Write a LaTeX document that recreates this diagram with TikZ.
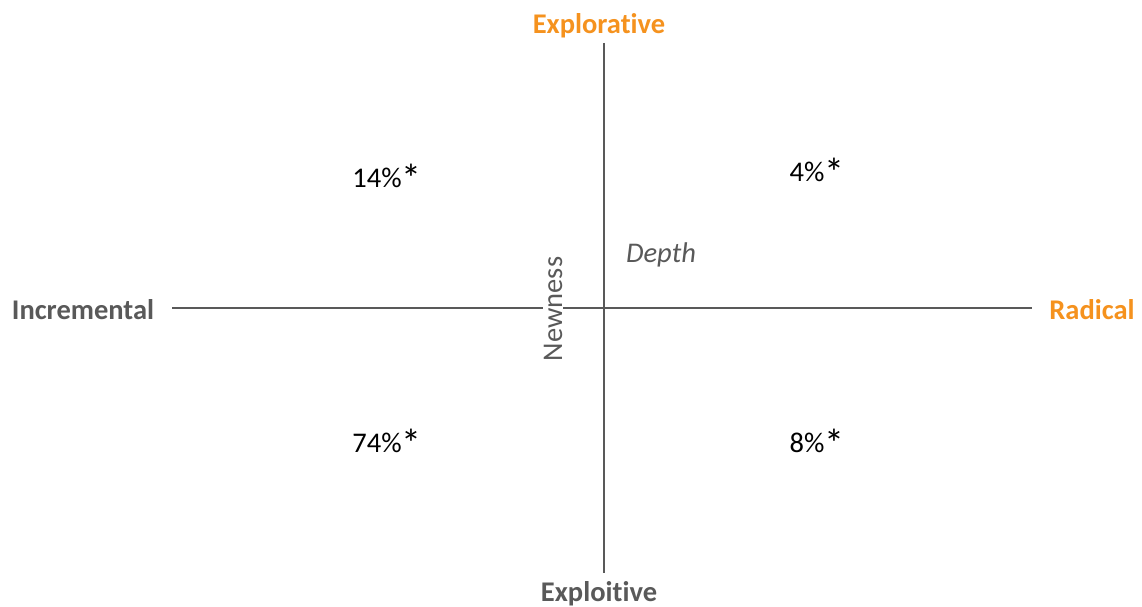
\documentclass[tikz,border=0pt]{standalone}
\usepackage{fontspec}
\setmainfont{Carlito}[Ligatures=CommonOff]
\definecolor{axisgray}{HTML}{595959}
\definecolor{accent}{HTML}{F5921E}
\newcommand{\bigast}{\raisebox{-5pt}{\fontsize{40}{42}\selectfont *}}
\begin{document}
\begin{tikzpicture}[x=1pt,y=-1pt,
  lbl/.style={font=\fontsize{28.5}{30}\selectfont\bfseries, inner sep=0pt, anchor=base},
  pct/.style={font=\fontsize{28.5}{30}\selectfont, text=black, inner sep=0pt, anchor=base},
  axisline/.style={draw=axisgray, line width=1.6pt}]
\useasboundingbox (0,0) rectangle (1142,607);
\coordinate (top) at (604,43);
\coordinate (bot) at (604,573);
\coordinate (lft) at (172,308);
\coordinate (rgt) at (1032,308);
\draw[axisline] (lft) -- (rgt);
\draw[axisline] (top) -- (bot);
\node[lbl, text=accent] (explorative) at (599,33.5) {Explorative};
\node[lbl, text=axisgray] (exploitive) at (599,601) {Exploitive};
\node[lbl, text=axisgray] (incremental) at (83,319) {Incremental};
\node[lbl, text=accent] (radical) at (1092,319) {Radical};
\node[pct] (q1) at (387,187) {14\%\bigast};
\node[pct] (q2) at (817,181) {4\%\bigast};
\node[pct] (q3) at (387,452) {74\%\bigast};
\node[pct] (q4) at (817,452) {8\%\bigast};
\node[font=\fontsize{28.5}{30}\selectfont\itshape, text=axisgray, inner sep=0pt, anchor=base] (depth) at (661,262) {Depth};
\node[font=\fontsize{28.5}{30}\selectfont, text=axisgray, fill=white, inner xsep=0pt, inner ysep=1pt, rotate=90] (newness) at (553,309) {Newness};
\end{tikzpicture}
\end{document}
